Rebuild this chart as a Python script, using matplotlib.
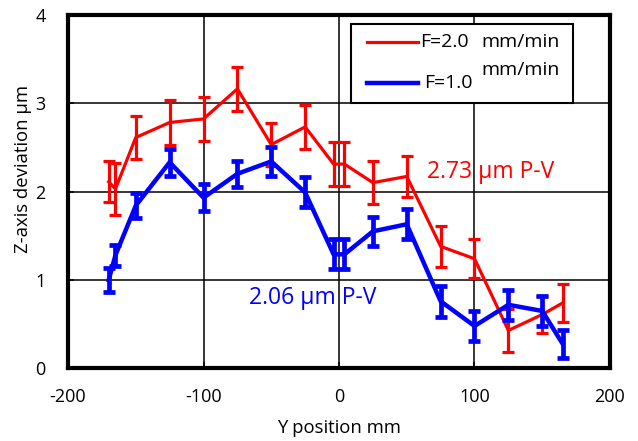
import matplotlib
matplotlib.use("Agg")
import matplotlib.pyplot as plt
from matplotlib.lines import Line2D
from matplotlib.patches import Rectangle

plt.rcParams['font.family'] = ['Open Sans', 'DejaVu Sans']
plt.rcParams['axes.unicode_minus'] = False

# Y positions of the measurement points (mm)
y_pos = [-170, -165, -150, -125, -100, -75, -50, -25, -4, 4,
         25, 50, 75, 100, 125, 150, 165]

# Z-axis deviation (um) and scatter for each feed rate
dev_f20 = [2.11, 2.03, 2.61, 2.78, 2.82, 3.16, 2.53, 2.73, 2.31, 2.31,
           2.10, 2.17, 1.38, 1.24, 0.43, 0.61, 0.74]
err_f20 = [0.23, 0.29, 0.24, 0.25, 0.25, 0.25, 0.245, 0.245, 0.245, 0.245,
           0.245, 0.235, 0.235, 0.22, 0.245, 0.21, 0.215]

dev_f10 = [1.00, 1.28, 1.84, 2.33, 1.93, 2.20, 2.34, 1.99, 1.29, 1.29,
           1.55, 1.63, 0.76, 0.48, 0.72, 0.65, 0.28]
err_f10 = [0.13, 0.12, 0.14, 0.15, 0.15, 0.15, 0.16, 0.17, 0.17, 0.17,
           0.165, 0.17, 0.175, 0.17, 0.17, 0.165, 0.16]

x_ticks = [-200, -100, 0, 100, 200]
y_ticks = [0, 1, 2, 3, 4]

fig = plt.figure(figsize=(6.38, 4.41), dpi=100)
ax = fig.add_axes([0.1066, 0.1644, 0.8495, 0.8027])

ax.errorbar(y_pos, dev_f20, yerr=err_f20, color='#ff0000', lw=2.3,
            elinewidth=2.3, capsize=4.3, capthick=2.3, zorder=3)
ax.errorbar(y_pos, dev_f10, yerr=err_f10, color='#0000ff', lw=3.2,
            elinewidth=3.4, capsize=4.6, capthick=3.4, zorder=4)

ax.set_xlim(-200, 200)
ax.set_ylim(0, 4)
ax.set_xticks(x_ticks)
ax.set_yticks(y_ticks)
ax.grid(True, color='black', lw=1.1)
ax.set_axisbelow(True)
for sp in ax.spines.values():
    sp.set_linewidth(3.0)
ax.tick_params(direction='in', length=4, width=1.1, labelsize=13)
ax.tick_params(axis='x', pad=14)
ax.tick_params(axis='y', pad=16)

ax.set_xlabel('Y position mm', fontsize=13.3, va='center')
ax.xaxis.set_label_coords(0.5, -0.168)
ax.set_ylabel('Z-axis deviation µm', fontsize=13.3, va='center')
ax.yaxis.set_label_coords(-0.083, 0.564)

# P-V annotations
ax.text(65, 2.22, '2.73 µm P-V', color='#ff0000', fontsize=16.5, va='center')
ax.text(-66.5, 0.80, '2.06 µm P-V', color='#0000ff', fontsize=16.5, va='center')

# legend box, laid out by hand in axes coordinates
ax.add_patch(Rectangle((0.523, 0.750), 0.409, 0.223, transform=ax.transAxes,
                       facecolor='white', edgecolor='black', lw=1.5, zorder=5))
ax.add_line(Line2D([0.551, 0.646], [0.923, 0.923], transform=ax.transAxes,
                   color='#ff0000', lw=2.3, zorder=6))
ax.add_line(Line2D([0.551, 0.646], [0.807, 0.807], transform=ax.transAxes,
                   color='#0000ff', lw=3.2, zorder=6))
leg_fs = 14
ax.text(0.650, 0.923, 'F=2.0', transform=ax.transAxes, fontsize=leg_fs,
        va='center', zorder=7)
ax.text(0.763, 0.923, 'mm/min', transform=ax.transAxes, fontsize=leg_fs,
        va='center', zorder=7)
ax.text(0.763, 0.843, 'mm/min', transform=ax.transAxes, fontsize=leg_fs,
        va='center', zorder=7)
ax.text(0.657, 0.807, 'F=1.0', transform=ax.transAxes, fontsize=leg_fs,
        va='center', zorder=7)

fig.savefig('out.png', dpi=100, facecolor='white')
